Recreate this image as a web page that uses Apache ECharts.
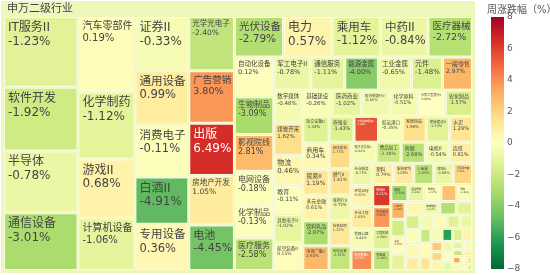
<!DOCTYPE html>
<html><head><meta charset="utf-8">
<script src="https://cdn.jsdelivr.net/npm/echarts@6/dist/echarts.min.js"></script>
<style>html,body{margin:0;padding:0;background:#fff}#c{width:550px;height:275px}</style>
</head><body><div id="c"></div>
<script>
const rootName = '申万二级行业';
const legendTitle = '周涨跌幅（%）';
const industries = [
 'IT服务II','软件开发','半导体','通信设备','汽车零部件','化学制药','游戏II','计算机设备',
 '证券II','通用设备','消费电子','白酒II','专用设备','光学光电子','广告营销','出版','房地产开发','电池',
 '光伏设备','电力','乘用车','中药II','医疗器械',
 '自动化设备','生物制品','影视院线','电网设备','化学制品','医疗服务',
 '军工电子II','通信服务','能源金属','工业金属','元件','一般零售',
 '数字媒体','煤炭开采','物流','教育','其他电子II','航空装备II',
 '基础建设','医药商业','股份制银行II','化学原料','国有大型银行II','农化制品','轨交设备II','商用车','贸易II','多元金融',
 '饮料乳品','电视广播II','养殖业','工程咨询服务II','航运港口','家居用品','房屋建设II','水泥','装修建材','燃气II',
 '城商行II','包装印刷','风电设备','电子化学品II','食品加工','普钢','电机II','造纸','专业服务','环境治理',
 '专业工程','铁路公路','航海装备II','塑料','服装家纺','小金属','保险II','互联网电商','综合II','纺织制造',
 '工程机械','贵金属',
 '橡胶','酒店餐饮','种植业','文娱用品','饲料','小家电','特钢II','渔业','化学纤维','非金属材料II',
 '玻璃玻纤','其他电源设备II','调味发酵品II','休闲食品','航空机场','黑色家电','汽车服务','农商行II','专业连锁II','旅游及景区',
 '冶钢原料','金属新材料','炼化及贸易','装修装饰II','厨卫电器','地面兵装II','航天装备II','油服工程','化妆品','个护用品',
 '房地产服务','社交II','家电零部件II','农产品加工','环保设备II','油气开采II','非白酒','焦炭II','摩托车及其他','医疗美容',
 '体育II','饰品','本地生活服务II','照明设备II'
];
const sizes = [
 5254,4736,4588,4292,4275,3819,3363,2964,
 2916,2900,2808,2538,2484,2470,2392,2380,2254,2070,
 1990,1970,1950,1930,1800,
 1560,1480,1440,1320,1300,1270,
 1220,1120,1110,1090,1020,990,
 957,928,870,841,812,810,
 780,760,745,730,720,710,700,690,680,670,
 660,650,640,630,620,610,600,590,580,570,
 560,550,540,530,520,510,500,490,480,472,
 464,456,448,440,432,424,416,408,400,392,
 384,376,
 288,282,276,270,264,258,252,246,240,234,
 228,222,216,210,204,198,192,186,180,174,
 168,162,156,150,144,138,132,126,120,114,
 108,102,96,90,84,78,72,66,60,54,
 48,42,38,34
];
const changes = [
 -1.23,-1.92,-0.78,-3.01,0.19,-1.12,0.68,-1.06,
 -0.33,0.99,-0.11,-4.91,0.36,-2.40,3.80,6.49,1.05,-4.45,
 -2.79,0.57,-1.12,-0.84,-2.72,
 0.12,-3.09,2.81,-0.18,-0.13,-2.58,
 -0.78,-1.11,-4.00,-0.65,-1.48,2.97,
 -0.48,1.62,0.46,-0.11,-1.02,0.15,
 -0.26,-1.02,-0.60,-0.51,0.00,-1.57,-1.34,0.34,1.19,0.61,
 -2.97,2.92,-1.43,5.49,-0.35,1.56,-1.23,1.29,1.77,1.41,
 -0.72,1.12,-2.31,-0.42,-2.10,-2.68,-0.54,0.81,-0.73,0.52,
 1.03,-0.41,4.07,0.79,1.08,-2.53,-0.88,1.96,6.21,3.80,
 -1.29,-2.48,
 -3.32,-0.93,-0.17,2.60,-0.30,3.08,-1.82,0.22,-1.08,0.45,
 -0.62,-2.77,-1.19,-1.66,-0.25,0.38,0.92,-0.48,0.15,-1.35,
 -0.85,-2.05,0.27,1.35,-0.38,-6.10,-1.45,0.57,2.35,1.94,
 0.68,-0.72,0.12,-0.95,-1.12,0.33,-2.22,0.85,3.45,-0.55,
 0.05,1.62,-0.28,-1.72
];
const tickValues = [-8,-6,-4,-2,0,2,4,6,8];
const tickLabels = ['\u22128','\u22126','\u22124','\u22122','0','2','4','6','8'];
const colorScale = ['#006837','#1a9850','#66bd63','#a6d96a','#d9ef8b','#ffffbf','#fee08b','#fdae61','#f46d43','#d73027','#a50026'];

const FONT = "'DejaVu Sans','Noto Sans CJK SC',sans-serif";
const BAR = { x: 491, y: 17, w: 13, h: 252 };
const chart = echarts.init(document.getElementById('c'), null, {renderer:'canvas'});

function fmtPct(v){ return v.toFixed(2) + '%'; }
function textEm(s){
  let w = 0;
  for (const ch of s){
    if (/[\u2e80-\u9fff\uff00-\uffef\u3000-\u303f]/.test(ch)) w += 1;
    else if (ch === 'I' || ch === '.' || ch === '-') w += 0.34;
    else if (ch === '%') w += 0.95;
    else w += 0.64;
  }
  return w;
}

function buildOption(labelInfo){
  const children = industries.map((n, i) => {
    const item = { name: n, value: [sizes[i], changes[i]] };
    if (labelInfo && labelInfo[n]) item.label = labelInfo[n];
    return item;
  });
  const stops = colorScale.slice().reverse().map((c, i, a) => ({ offset: i / (a.length - 1), color: c }));
  return {
    animation: false,
    title: { text: legendTitle, left: 487, top: 5, padding: 0,
      textStyle: { fontSize: 10, color: '#555', fontWeight: 'normal', fontFamily: FONT } },
    graphic: [{ type: 'rect', left: BAR.x, top: BAR.y, shape: { width: BAR.w, height: BAR.h },
      style: { fill: new echarts.graphic.LinearGradient(0, 0, 0, 1, stops) }, silent: true, z: 10 }],
    grid: { left: BAR.x, top: BAR.y, width: BAR.w, height: BAR.h, show: false },
    xAxis: { type: 'value', show: false, min: 0, max: 1 },
    yAxis: { type: 'value', min: -8, max: 8, interval: 2, position: 'right', show: true,
      axisLine: { show: false }, axisTick: { show: false }, splitLine: { show: false },
      axisLabel: { show: true, color: '#555', fontSize: 9, margin: 3, fontFamily: FONT,
        formatter: v => tickLabels[tickValues.indexOf(v)] } },
    series: [{
      type: 'treemap', left: 1, top: 1, width: 474, height: 272,
      roam: false, nodeClick: false, breadcrumb: { show: false },
      squareRatio: 1,
      visibleMin: 0, childrenVisibleMin: 0, animation: false,
      levels: [
        { itemStyle: { borderWidth: 0, gapWidth: 0 } },
        { color: colorScale, colorMappingBy: 'value', visualDimension: 1, visualMin: -8, visualMax: 8,
          itemStyle: { color: '#eff6bc', borderColor: '#eff6bc', borderWidth: 3, gapWidth: 1 },
          upperLabel: { show: true, height: 16, color: '#444', fontSize: 11, fontFamily: FONT,
            padding: [0, 0, 0, 3], formatter: '{b}' } },
        { itemStyle: { borderWidth: 1, borderColor: '#f9fcdf', gapWidth: 0 },
          label: { show: true, position: 'insideTopLeft', distance: 0, padding: [3, 1, 0, 3],
            overflow: 'none', color: '#444', fontFamily: FONT, fontSize: 11,
            formatter: p => p.name + '\n' + fmtPct(p.value[1]) } }
      ],
      data: [{ name: rootName, children: children }]
    }, {
      type: 'scatter', data: [[0.5, 0]], symbolSize: 0, silent: true, itemStyle: { opacity: 0 }
    }]
  };
}

chart.setOption(buildOption(null));

// second pass: size labels to the cells the treemap laid out
const tree = chart.getModel().getSeriesByIndex(0).getData().tree;
const labelInfo = {};
tree.eachNode(node => {
  if (node.children && node.children.length) return;
  const l = node.getLayout();
  if (!l) return;
  const i = industries.indexOf(node.name);
  if (i < 0) return;
  const em = Math.max(textEm(node.name), textEm(fmtPct(changes[i])));
  let fs = Math.min(12, (l.width - 5) / em, (l.height - 4) / 2.25);
  fs = Math.floor(fs * 2) / 2;
  const dark = changes[i] >= 4 || changes[i] <= -5.5;
  labelInfo[node.name] = fs < 2.5 ? { show: false } :
    { fontSize: fs, lineHeight: Math.round(fs * 1.15 * 10) / 10, color: dark ? '#fff' : '#444',
      padding: fs >= 9 ? [3, 1, 0, 3] : [2, 1, 0, 2] };
});
chart.setOption(buildOption(labelInfo), true);
</script></body></html>
